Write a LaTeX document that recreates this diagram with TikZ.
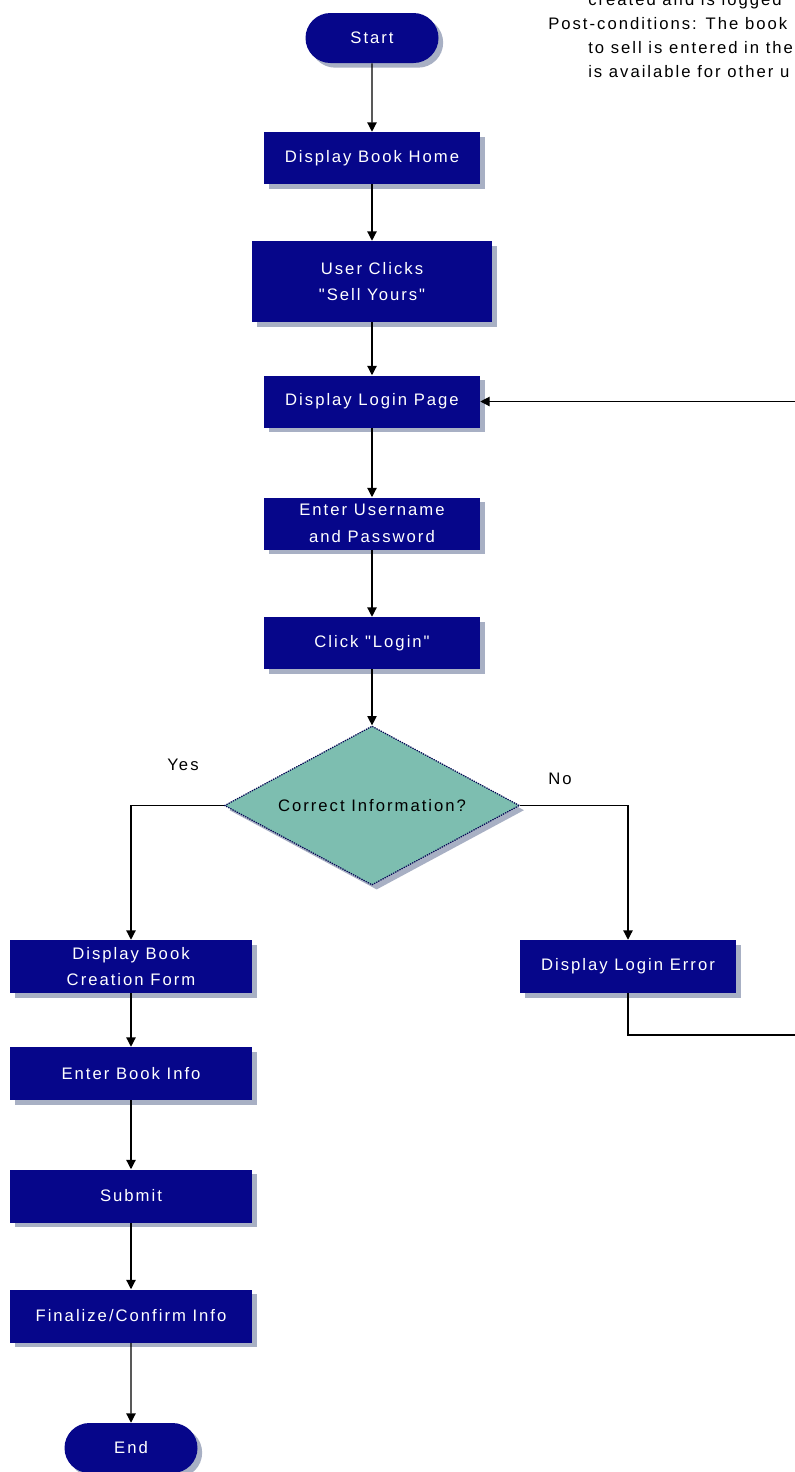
\documentclass[tikz,border=0pt]{standalone}
\usepackage{xcolor}
\usepackage{fontspec}
\newfontfamily\chartfont[LetterSpace=12]{Liberation Sans}
\usetikzlibrary{arrows.meta,shapes,shadows}
\definecolor{boxblue}{RGB}{6,6,138}
\definecolor{decfill}{RGB}{125,190,176}
\definecolor{shadowgray}{RGB}{168,176,196}

\begin{document}
\begin{tikzpicture}[
			x = 0.75pt, y = -0.75pt,
			every node/.style = {font = \chartfont\fontsize{12.5}{20}\selectfont},
			boxshadow/.style = {drop shadow = {shadow xshift = 3.5pt, shadow yshift = -3.5pt, fill = shadowgray, opacity = 1}},
			proc/.style = {rectangle, fill = boxblue, text = white, align = center, inner sep = 0pt, minimum width = 162pt, minimum height = 39pt, boxshadow},
			wideproc/.style = {proc, minimum width = 181.5pt, minimum height = 39.75pt},
			term/.style = {rounded rectangle, fill = boxblue, text = white, inner sep = 0pt, minimum width = 99.75pt, minimum height = 37.5pt, boxshadow},
			dec/.style = {diamond, aspect = 1.86, fill = decfill, draw = boxblue!60!black, dash pattern = on 1pt off 0.8pt, line width = 0.9pt, inner sep = 0pt, minimum width = 221.25pt, minimum height = 119.25pt, boxshadow},
			note/.style = {anchor = base west, inner sep = 0pt},
			flow/.style = {draw, line width = 0.9pt, -{Triangle[length = 7pt, width = 7pt]}}]

			\fill[white] (0,0) rectangle (794,1472);
			\useasboundingbox (0,0) rectangle (794,1472);

			\node[note] (pre) at (588,5) {created and is logged};
			\node[note] (post) at (548,29) {Post-conditions: The book};
			\node[note] (postb) at (588,53) {to sell is entered in the};
			\node[note] (postc) at (588,77) {is available for other u};

			\node[term] (start) at (372,38) {Start};
			\node[proc] (home) at (372,158) {Display Book Home};
			\node[proc, minimum width = 180pt, minimum height = 60.75pt] (sell) at (372,281.5) {User Clicks\\"Sell Yours"};
			\node[proc] (loginpage) at (372,401.5) {Display Login Page};
			\node[proc] (creds) at (372,523.5) {Enter Username\\and Password};
			\node[proc] (clicklogin) at (372,643) {Click "Login"};
			\node[dec] (check) at (372,805.5) {Correct Information?};

			\node (yes) at (183,765) {Yes};
			\node (no) at (560,779) {No};

			\node[wideproc] (form) at (131,966.5) {Display Book\\Creation Form};
			\node[wideproc] (bookinfo) at (131,1073.5) {Enter Book Info};
			\node[wideproc] (submit) at (131,1196) {Submit};
			\node[wideproc] (confirm) at (131,1316) {Finalize/Confirm Info};
			\node[term] (finish) at (131,1448) {End};

			\node[proc, minimum height = 39.75pt] (loginerr) at (628,966.5) {Display Login Error};
			\coordinate (loopA) at (830,1035);

			\draw[flow] (start) -- (home);
			\draw[flow] (home) -- (sell);
			\draw[flow] (sell) -- (loginpage);
			\draw[flow] (loginpage) -- (creds);
			\draw[flow] (creds) -- (clicklogin);
			\draw[flow] (clicklogin) -- (check);
			\draw[flow] (check.west) -| (form.north);
			\draw[flow] (check.east) -| (loginerr.north);
			\draw[flow] (form) -- (bookinfo);
			\draw[flow] (bookinfo) -- (submit);
			\draw[flow] (submit) -- (confirm);
			\draw[flow] (confirm) -- (finish);
			\draw[flow] (loginerr.south) |- (loopA) |- (loginpage.east);

		\end{tikzpicture}
\end{document}
